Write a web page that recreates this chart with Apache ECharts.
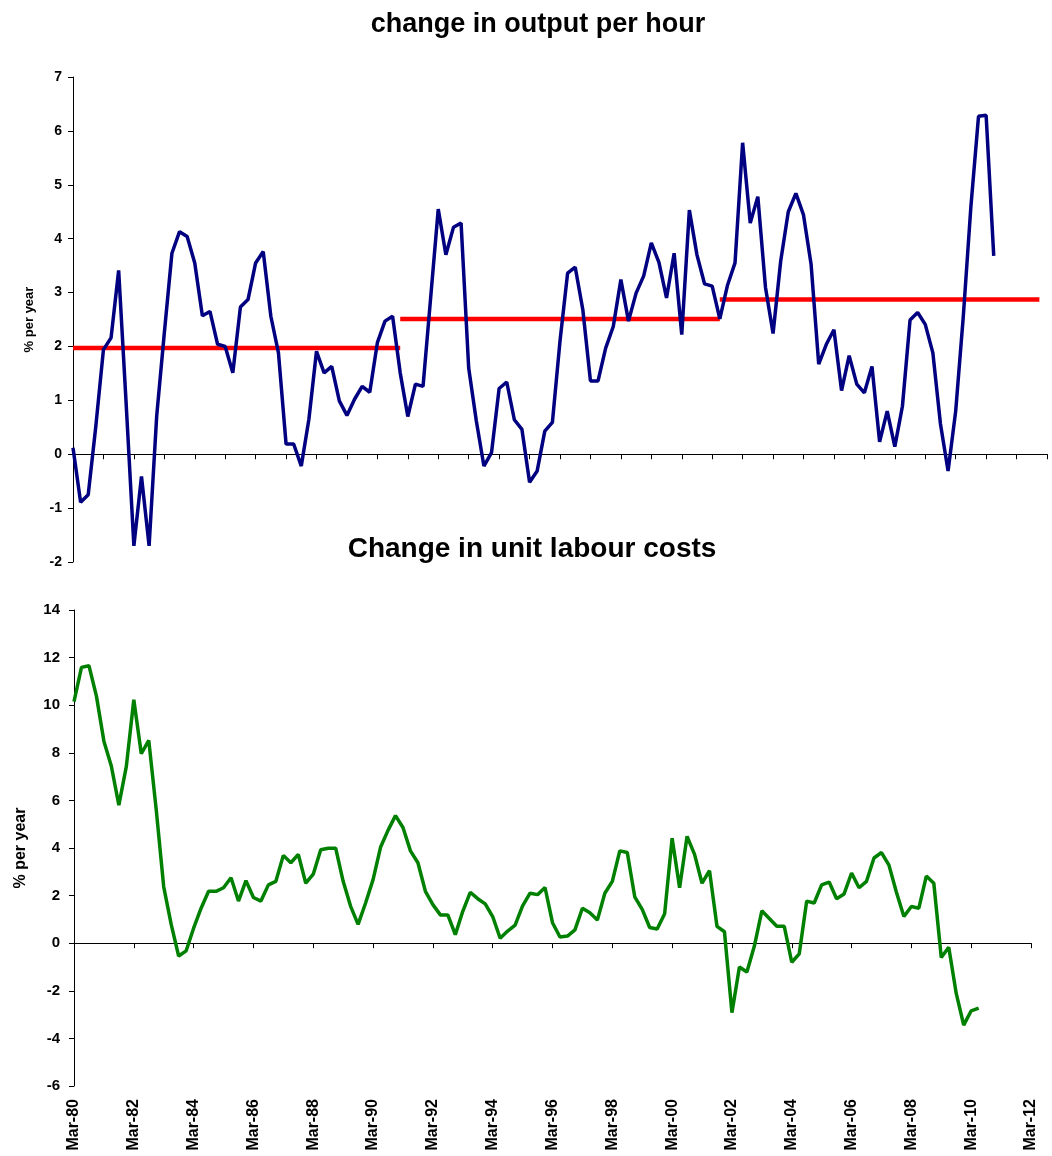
<!DOCTYPE html>
<html>
<head>
<meta charset="utf-8">
<script src="https://cdn.jsdelivr.net/npm/echarts@6/dist/echarts.min.js"></script>
<style>
html,body{margin:0;padding:0;background:#fff;}
#chart{width:1052px;height:1156px;}
</style>
</head>
<body>
<div id="chart"></div>
<script>
// ---------- DATA ----------
const quarterNames = ["Mar", "Jun", "Sep", "Dec"];
const firstYear = 1980;
const lastYear = 2012;           // axis runs Mar-80 .. Mar-12
const tickLabels = ["Mar-80","Mar-82","Mar-84","Mar-86","Mar-88","Mar-90","Mar-92","Mar-94",
                    "Mar-96","Mar-98","Mar-00","Mar-02","Mar-04","Mar-06","Mar-08","Mar-10","Mar-12"];

// Change in output per hour, % per year (quarterly, Mar-80 .. Jun-10)
const outputPerHour = [
  0.12,-0.89,-0.75,0.52,1.94,2.16,3.41,0.9,-1.70,-0.41,
  -1.70,0.71,2.25,3.73,4.13,4.04,3.55,2.57,2.65,2.04,
  2.00,1.51,2.73,2.87,3.55,3.76,2.56,1.88,0.19,0.19,
  -0.22,0.65,1.91,1.51,1.63,0.99,0.72,1.02,1.26,1.15,
  2.07,2.47,2.56,1.51,0.70,1.30,1.26,2.90,4.55,3.70,
  4.21,4.29,1.60,0.62,-0.22,0.03,1.22,1.34,0.64,0.46,
  -0.52,-0.31,0.43,0.59,2.10,3.36,3.47,2.68,1.36,1.36,
  1.97,2.37,3.24,2.47,2.99,3.31,3.92,3.56,2.90,3.73,
  2.22,4.53,3.70,3.16,3.12,2.51,3.13,3.55,5.78,4.29,
  4.78,3.10,2.24,3.58,4.50,4.84,4.44,3.52,1.67,2.04,
  2.31,1.18,1.83,1.30,1.14,1.63,0.23,0.80,0.14,0.89,
  2.49,2.63,2.41,1.88,0.56,-0.31,0.80,2.56,4.60,6.27,
  6.29,3.68
];

// Period averages of output per hour (red lines)
const periodStart = [0, 43, 85];
const periodEnd   = [43, 85, 127];
const periodAvg   = [1.97, 2.51, 2.87];

// Change in unit labour costs, % per year (quarterly, Mar-80 .. Jun-10)
const unitLabourCosts = [
  10.15,11.59,11.66,10.38,8.49,7.43,5.80,7.43,10.23,7.96,
  8.52,5.60,2.37,0.79,-0.54,-0.32,0.63,1.47,2.18,2.18,
  2.33,2.75,1.77,2.63,1.92,1.77,2.45,2.60,3.69,3.38,
  3.73,2.52,2.90,3.93,3.99,3.99,2.60,1.55,0.79,1.69,
  2.67,4.03,4.74,5.36,4.86,3.88,3.38,2.18,1.62,1.19,
  1.19,0.36,1.34,2.14,1.87,1.65,1.12,0.21,0.51,0.76,
  1.57,2.10,2.04,2.34,0.86,0.26,0.30,0.56,1.47,1.28,
  0.97,2.10,2.60,3.88,3.81,1.95,1.42,0.66,0.60,1.24,
  4.41,2.33,4.49,3.73,2.52,3.05,0.71,0.48,-2.92,-1.00,
  -1.21,-0.12,1.36,1.04,0.71,0.71,-0.80,-0.45,1.77,1.69,
  2.45,2.57,1.87,2.07,2.95,2.33,2.60,3.58,3.81,3.28,
  2.14,1.12,1.54,1.47,2.82,2.52,-0.60,-0.17,-2.11,-3.44,
  -2.84,-2.73
];

// ---------- BUILD ----------
const categories = [];
for (let y = firstYear; y <= lastYear; y++) {
  for (let q = 0; q < 4; q++) {
    if (y === lastYear && q > 0) break;
    categories.push(quarterNames[q] + "-" + String(y % 100).padStart(2, "0"));
  }
}

function periodSeries(k) {
  const d = categories.map(() => null);
  for (let i = periodStart[k]; i <= periodEnd[k]; i++) d[i] = periodAvg[k];
  return d;
}

const FONT = '"Liberation Sans", Arial, sans-serif';
const axisLine = { show: true, lineStyle: { color: '#000', width: 1 } };

const chart = echarts.init(document.getElementById('chart'), null, { renderer: 'canvas' });

const redSeries = periodStart.map((s, k) => ({
  type: 'line', xAxisIndex: 0, yAxisIndex: 0,
  data: periodSeries(k), showSymbol: false, symbol: 'none',
  lineStyle: { color: '#FF0000', width: 4.5 }, z: 3, animation: false
}));

chart.setOption({
  animation: false,
  backgroundColor: '#fff',
  title: [
    { text: 'change in output per hour', left: 533, top: 6, textAlign: 'center',
      textStyle: { fontFamily: FONT, fontWeight: 'bold', fontSize: 27, color: '#000' } },
    { text: 'Change in unit labour costs', left: 527, top: 530, textAlign: 'center',
      textStyle: { fontFamily: FONT, fontWeight: 'bold', fontSize: 28, color: '#000' } }
  ],
  grid: [
    { left: 73, top: 77, width: 974, height: 485, containLabel: false },
    { left: 74, top: 610, width: 957, height: 476, containLabel: false }
  ],
  xAxis: [
    { type: 'category', gridIndex: 0, data: categories, boundaryGap: false,
      axisLine: { ...axisLine, onZero: true },
      axisTick: { show: true, interval: 3, length: 5, lineStyle: { color: '#000' } },
      axisLabel: { show: false }, splitLine: { show: false } },
    { type: 'category', gridIndex: 1, data: categories, boundaryGap: false,
      axisLine: { ...axisLine, onZero: true },
      axisTick: { show: true, interval: 7, length: 5, lineStyle: { color: '#000' } },
      axisLabel: { show: false }, splitLine: { show: false } },
    { type: 'category', gridIndex: 1, data: categories, boundaryGap: false, position: 'bottom',
      axisLine: { show: false, onZero: false },
      axisTick: { show: false },
      axisLabel: { show: true, rotate: 90, margin: 13,
        interval: (idx, val) => tickLabels.indexOf(val) >= 0 && idx % 8 === 0,
        fontFamily: FONT, fontWeight: 'bold', fontSize: 16, color: '#000' },
      splitLine: { show: false } }
  ],
  yAxis: [
    { type: 'value', gridIndex: 0, min: -2, max: 7, interval: 1,
      name: '% per year', nameLocation: 'middle', nameGap: 37, nameRotate: 90,
      nameTextStyle: { fontFamily: FONT, fontWeight: 'bold', fontSize: 13, color: '#000' },
      axisLine: axisLine, axisTick: { show: true, length: 5, lineStyle: { color: '#000' } },
      axisLabel: { fontFamily: FONT, fontWeight: 'bold', fontSize: 14, color: '#000', margin: 11 },
      splitLine: { show: false } },
    { type: 'value', gridIndex: 1, min: -6, max: 14, interval: 2,
      name: '% per year', nameLocation: 'middle', nameGap: 45, nameRotate: 90,
      nameTextStyle: { fontFamily: FONT, fontWeight: 'bold', fontSize: 16, color: '#000' },
      axisLine: axisLine, axisTick: { show: true, length: 5, lineStyle: { color: '#000' } },
      axisLabel: { fontFamily: FONT, fontWeight: 'bold', fontSize: 15, color: '#000', margin: 14 },
      splitLine: { show: false } }
  ],
  series: [
    ...redSeries,
    { type: 'line', xAxisIndex: 0, yAxisIndex: 0, data: outputPerHour,
      showSymbol: false, symbol: 'none', lineStyle: { color: '#000080', width: 3.5 }, z: 4 },
    { type: 'line', xAxisIndex: 1, yAxisIndex: 1, data: unitLabourCosts,
      showSymbol: false, symbol: 'none', lineStyle: { color: '#008000', width: 3.5 }, z: 4 }
  ]
});
</script>
</body>
</html>
